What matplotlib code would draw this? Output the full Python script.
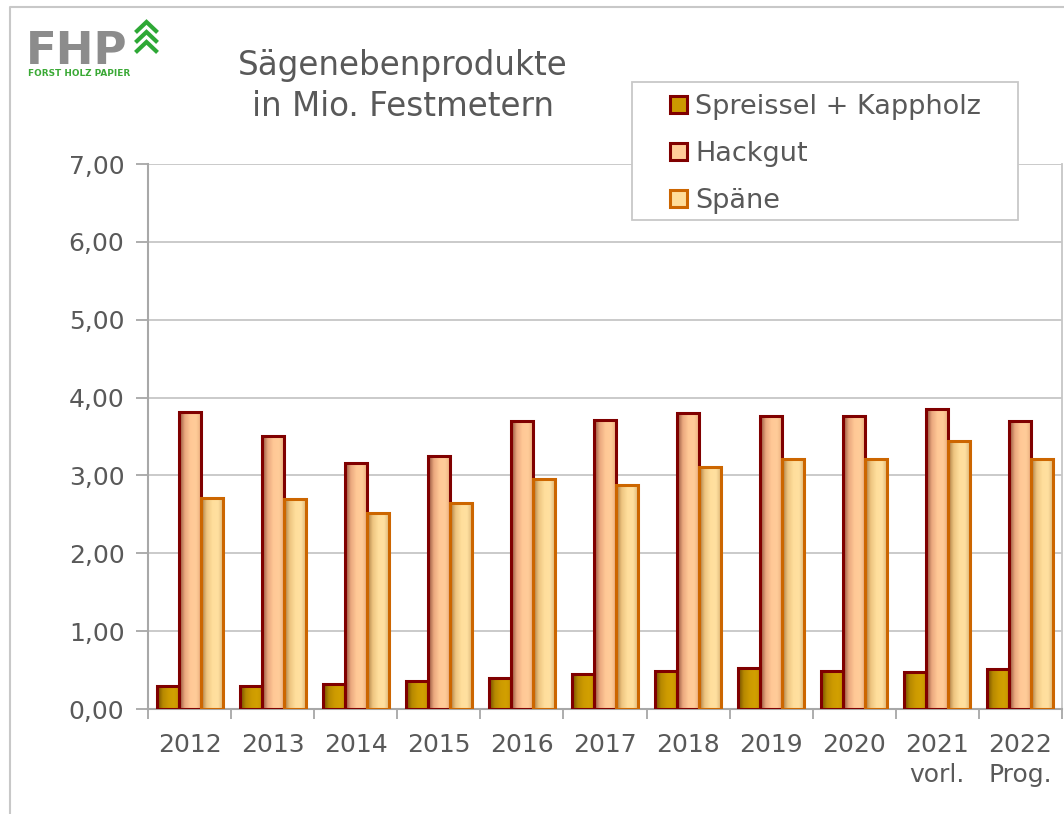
import numpy as np
import matplotlib.pyplot as plt
from matplotlib.colors import LinearSegmentedColormap
from matplotlib.patches import Patch, Rectangle

plt.rcParams['font.family'] = ['DejaVu Sans']

years = ['2012', '2013', '2014', '2015', '2016', '2017', '2018', '2019', '2020', '2021\nvorl.', '2022\nProg.']
spreissel = [0.30, 0.30, 0.32, 0.36, 0.40, 0.45, 0.49, 0.53, 0.49, 0.47, 0.51]
hackgut = [3.81, 3.51, 3.16, 3.25, 3.70, 3.71, 3.80, 3.76, 3.76, 3.85, 3.70]
spaene = [2.71, 2.70, 2.52, 2.65, 2.95, 2.88, 3.11, 3.21, 3.21, 3.44, 3.21]
names = ['Spreissel + Kappholz', 'Hackgut', 'Späne']

txt = '#595959'
grid_c = '#c6c6c6'
W, H = 1064, 814

series = [
    (spreissel, '#cc9900', '#800000',
     ['#6e4a00', '#b68800', '#cc9a00', '#d2a000', '#c29200']),
    (hackgut, '#ffcc99', '#800000',
     ['#8c4c38', '#eaa87e', '#ffc896', '#ffcc99', '#e8ac7c']),
    (spaene, '#ffdd99', '#cc6600',
     ['#a87a40', '#eec580', '#ffde9c', '#ffe0a0', '#d9b274']),
]

fig = plt.figure(figsize=(10.64, 8.14), dpi=100)
ax = fig.add_axes([148 / W, 1 - 709 / H, 914 / W, 545 / H])
ax.set_facecolor('none')

x = np.arange(len(years))
w = 0.265
for i, (vals, base, edge, grad) in enumerate(series):
    cmap = LinearSegmentedColormap.from_list('g%d' % i, grad)
    bars = ax.bar(x + (i - 1) * w, vals, w, facecolor='none', edgecolor=edge,
                  linewidth=2.2, zorder=4)
    for b in bars:
        bx, bw, bh = b.get_x(), b.get_width(), b.get_height()
        im = ax.imshow(np.linspace(0, 1, 64).reshape(1, -1), cmap=cmap,
                       extent=[bx, bx + bw, 0, bh], aspect='auto', zorder=3,
                       interpolation='bilinear')
        im.set_clip_path(b)

ax.set_xlim(-0.5, len(years) - 0.5)
ax.set_ylim(0, 7)
ax.set_yticks(np.arange(0, 8, 1))
ax.yaxis.set_major_formatter(plt.FuncFormatter(lambda v, p: ('%.2f' % v).replace('.', ',')))
ax.set_xticks(x)
ax.set_xticklabels(years, linespacing=1.35)
ax.set_xticks(np.arange(-0.5, len(years), 1), minor=True)
ax.tick_params(axis='x', which='major', length=0, pad=17, labelsize=18, labelcolor=txt)
ax.tick_params(axis='x', which='minor', length=7, width=1.2, color='#a0a0a0', direction='out')
ax.tick_params(axis='y', length=9, width=1.2, color='#a0a0a0', pad=8, labelsize=18, labelcolor=txt)
ax.grid(axis='y', color=grid_c, linewidth=1.3, zorder=0)
ax.set_axisbelow(True)
ax.spines['top'].set_visible(False)
ax.spines['left'].set_color('#a8a8a8')
ax.spines['left'].set_linewidth(1.5)
ax.spines['bottom'].set_color('#a8a8a8')
ax.spines['bottom'].set_linewidth(1.5)
ax.spines['right'].set_color(grid_c)
ax.spines['right'].set_linewidth(1.3)

# legend box drawn by hand so the padding matches
box = Rectangle((632 / W, 1 - 220 / H), 386 / W, 138 / H, transform=fig.transFigure,
                facecolor='white', edgecolor='#c8c8c8', linewidth=1.3, clip_on=False, zorder=9)
ax.add_patch(box)
handles = [Patch(facecolor=s[1], edgecolor=s[2], linewidth=2.2) for s in series]
leg = ax.legend(handles, names, loc='upper left', bbox_to_anchor=(670 / W, 1 - 94 / H),
                bbox_transform=fig.transFigure, fontsize=19.5, frameon=False,
                handlelength=0.62, handleheight=0.6, handletextpad=0.3, labelspacing=0.78,
                borderpad=0, borderaxespad=0)
leg.set_zorder(10)
for t in leg.get_texts():
    t.set_color(txt)

fig.text(403 / W, 1 - 86 / H, 'Sägenebenprodukte\nin Mio. Festmetern', ha='center',
         va='center', fontsize=23.5, color=txt, linespacing=1.3)

# frame and logo in pixel coordinates
ov = fig.add_axes([0, 0, 1, 1], zorder=-1)
ov.set_xlim(0, W)
ov.set_ylim(H, 0)
ov.axis('off')
ov.plot([10, 10, W], [H, 7, 7], color='#c8c8c8', lw=1.5)
fig.text(26 / W, 1 - 51 / H, 'FHP', ha='left', va='center', fontsize=32.5,
         fontweight='bold', color='#8c8c8c')
fig.text(28 / W, 1 - 74 / H, 'FORST HOLZ PAPIER', ha='left', va='center', fontsize=6.4,
         fontweight='bold', color='#3aa935')
for cy in [22, 32, 42]:
    ov.plot([137, 146.5, 156], [cy + 9, cy, cy + 9], color='#2ea836', lw=3,
            solid_joinstyle='miter')

fig.savefig('out.png', dpi=100, facecolor='white')
